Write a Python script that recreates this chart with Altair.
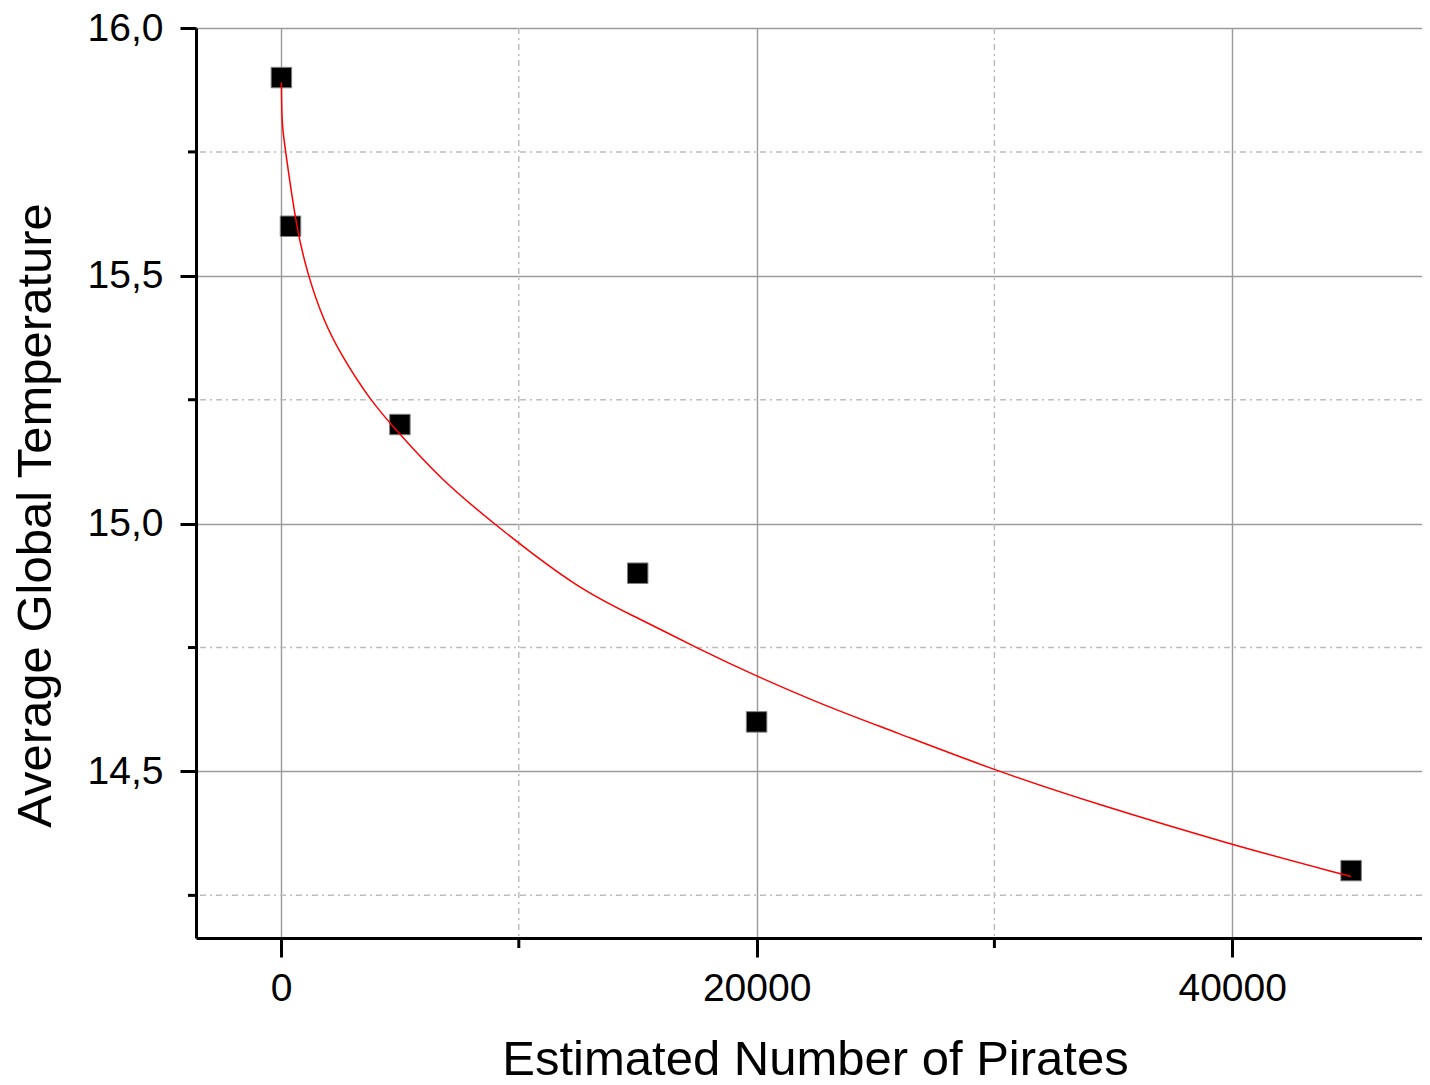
import altair as alt
import pandas as pd

# Data points
pirates = [17, 400, 5000, 15000, 20000, 45000]
temperature = [15.9, 15.6, 15.2, 14.9, 14.6, 14.3]

# Fitted red curve
fit_x = [17, 30, 55, 200, 660, 1150, 1780, 2480, 3740, 5000, 6690, 8930,
         12570, 15100, 17480, 20000, 22950, 25750, 29950, 34440, 39910, 45000]
fit_y = [15.89, 15.84, 15.80, 15.748, 15.593, 15.498, 15.411, 15.344, 15.249, 15.180,
         15.091, 15.000, 14.865, 14.808, 14.749, 14.692, 14.631, 14.581, 14.503,
         14.432, 14.353, 14.288]

x_major = [0, 20000, 40000]
x_minor = [10000, 30000]
y_major = [14.5, 15.0, 15.5, 16.0]
y_minor = [14.25, 14.75, 15.25, 15.75]

W, H = 1226, 910
x_dom = [-3574, 47981]
y_dom = [14.164, 16.0]

FONT = "Liberation Sans"

xs = alt.Scale(domain=x_dom, nice=False, zero=False)
ys = alt.Scale(domain=y_dom, nice=False, zero=False)

pts = pd.DataFrame({"x": pirates, "y": temperature})
fit = pd.DataFrame({"x": fit_x, "y": fit_y})
xmin_df = pd.DataFrame({"x": x_minor})
ymin_df = pd.DataFrame({"y": y_minor})

minor_style = dict(color="#bdbdbd", strokeWidth=1.5, strokeDash=[6, 4, 2, 4])

grid_x_minor = alt.Chart(xmin_df).mark_rule(**minor_style).encode(
    x=alt.X("x:Q", scale=xs)
)
grid_y_minor = alt.Chart(ymin_df).mark_rule(**minor_style).encode(
    y=alt.Y("y:Q", scale=ys)
)

tick_x_minor = alt.Chart(xmin_df).mark_rule(color="black", strokeWidth=3).encode(
    x=alt.X("x:Q", scale=xs), y=alt.value(H), y2=alt.value(H + 10)
)
tick_y_minor = alt.Chart(ymin_df).mark_rule(color="black", strokeWidth=3).encode(
    y=alt.Y("y:Q", scale=ys), x=alt.value(-8), x2=alt.value(0)
)

x_axis = alt.Axis(
    values=x_major, format="d", grid=True, gridColor="#9a9a9a", gridWidth=1.4,
    domainColor="black", domainWidth=3, tickColor="black", tickWidth=3, tickSize=19,
    labelFont=FONT, labelFontSize=39, labelColor="black", labelPadding=43,
    labelBaseline="alphabetic", labelFlush=False, labelOverlap=False,
    title="Estimated Number of Pirates", titleFont=FONT, titleFontSize=49,
    titleFontWeight="normal", titleColor="black", titleX=619, titleY=136,
    titleBaseline="alphabetic", titleAlign="center",
)
y_axis = alt.Axis(
    values=y_major, labelExpr="replace(format(datum.value, '.1f'), '.', ',')",
    grid=True, gridColor="#9a9a9a", gridWidth=1.4,
    domainColor="black", domainWidth=3, tickColor="black", tickWidth=3, tickSize=16,
    labelFont=FONT, labelFontSize=39, labelColor="black", labelPadding=17,
    labelBaseline="middle", labelFlush=False, labelOverlap=False,
    title="Average Global Temperature", titleFont=FONT, titleFontSize=49,
    titleFontWeight="normal", titleColor="black", titleX=-146, titleY=487,
    titleAngle=-90, titleBaseline="alphabetic", titleAlign="center",
)

points = alt.Chart(pts).mark_square(
    size=420, filled=True, color="black", stroke="#808080", strokeWidth=1, opacity=1
).encode(
    x=alt.X("x:Q", scale=xs, axis=x_axis),
    y=alt.Y("y:Q", scale=ys, axis=y_axis),
)

curve = alt.Chart(fit).mark_line(
    color="#ff0000", strokeWidth=1.5, interpolate="basis"
).encode(
    x=alt.X("x:Q", scale=xs),
    y=alt.Y("y:Q", scale=ys),
)

chart = alt.layer(
    points, grid_x_minor, grid_y_minor, curve, tick_x_minor, tick_y_minor
).properties(
    width=W, height=H,
    padding={"left": 188, "top": 20, "right": 0, "bottom": 138},
    autosize=alt.AutoSizeParams(type="none"),
    background="white",
).configure_view(stroke=None)

chart.save("out.html", embed_options={"renderer": "svg", "actions": False})
